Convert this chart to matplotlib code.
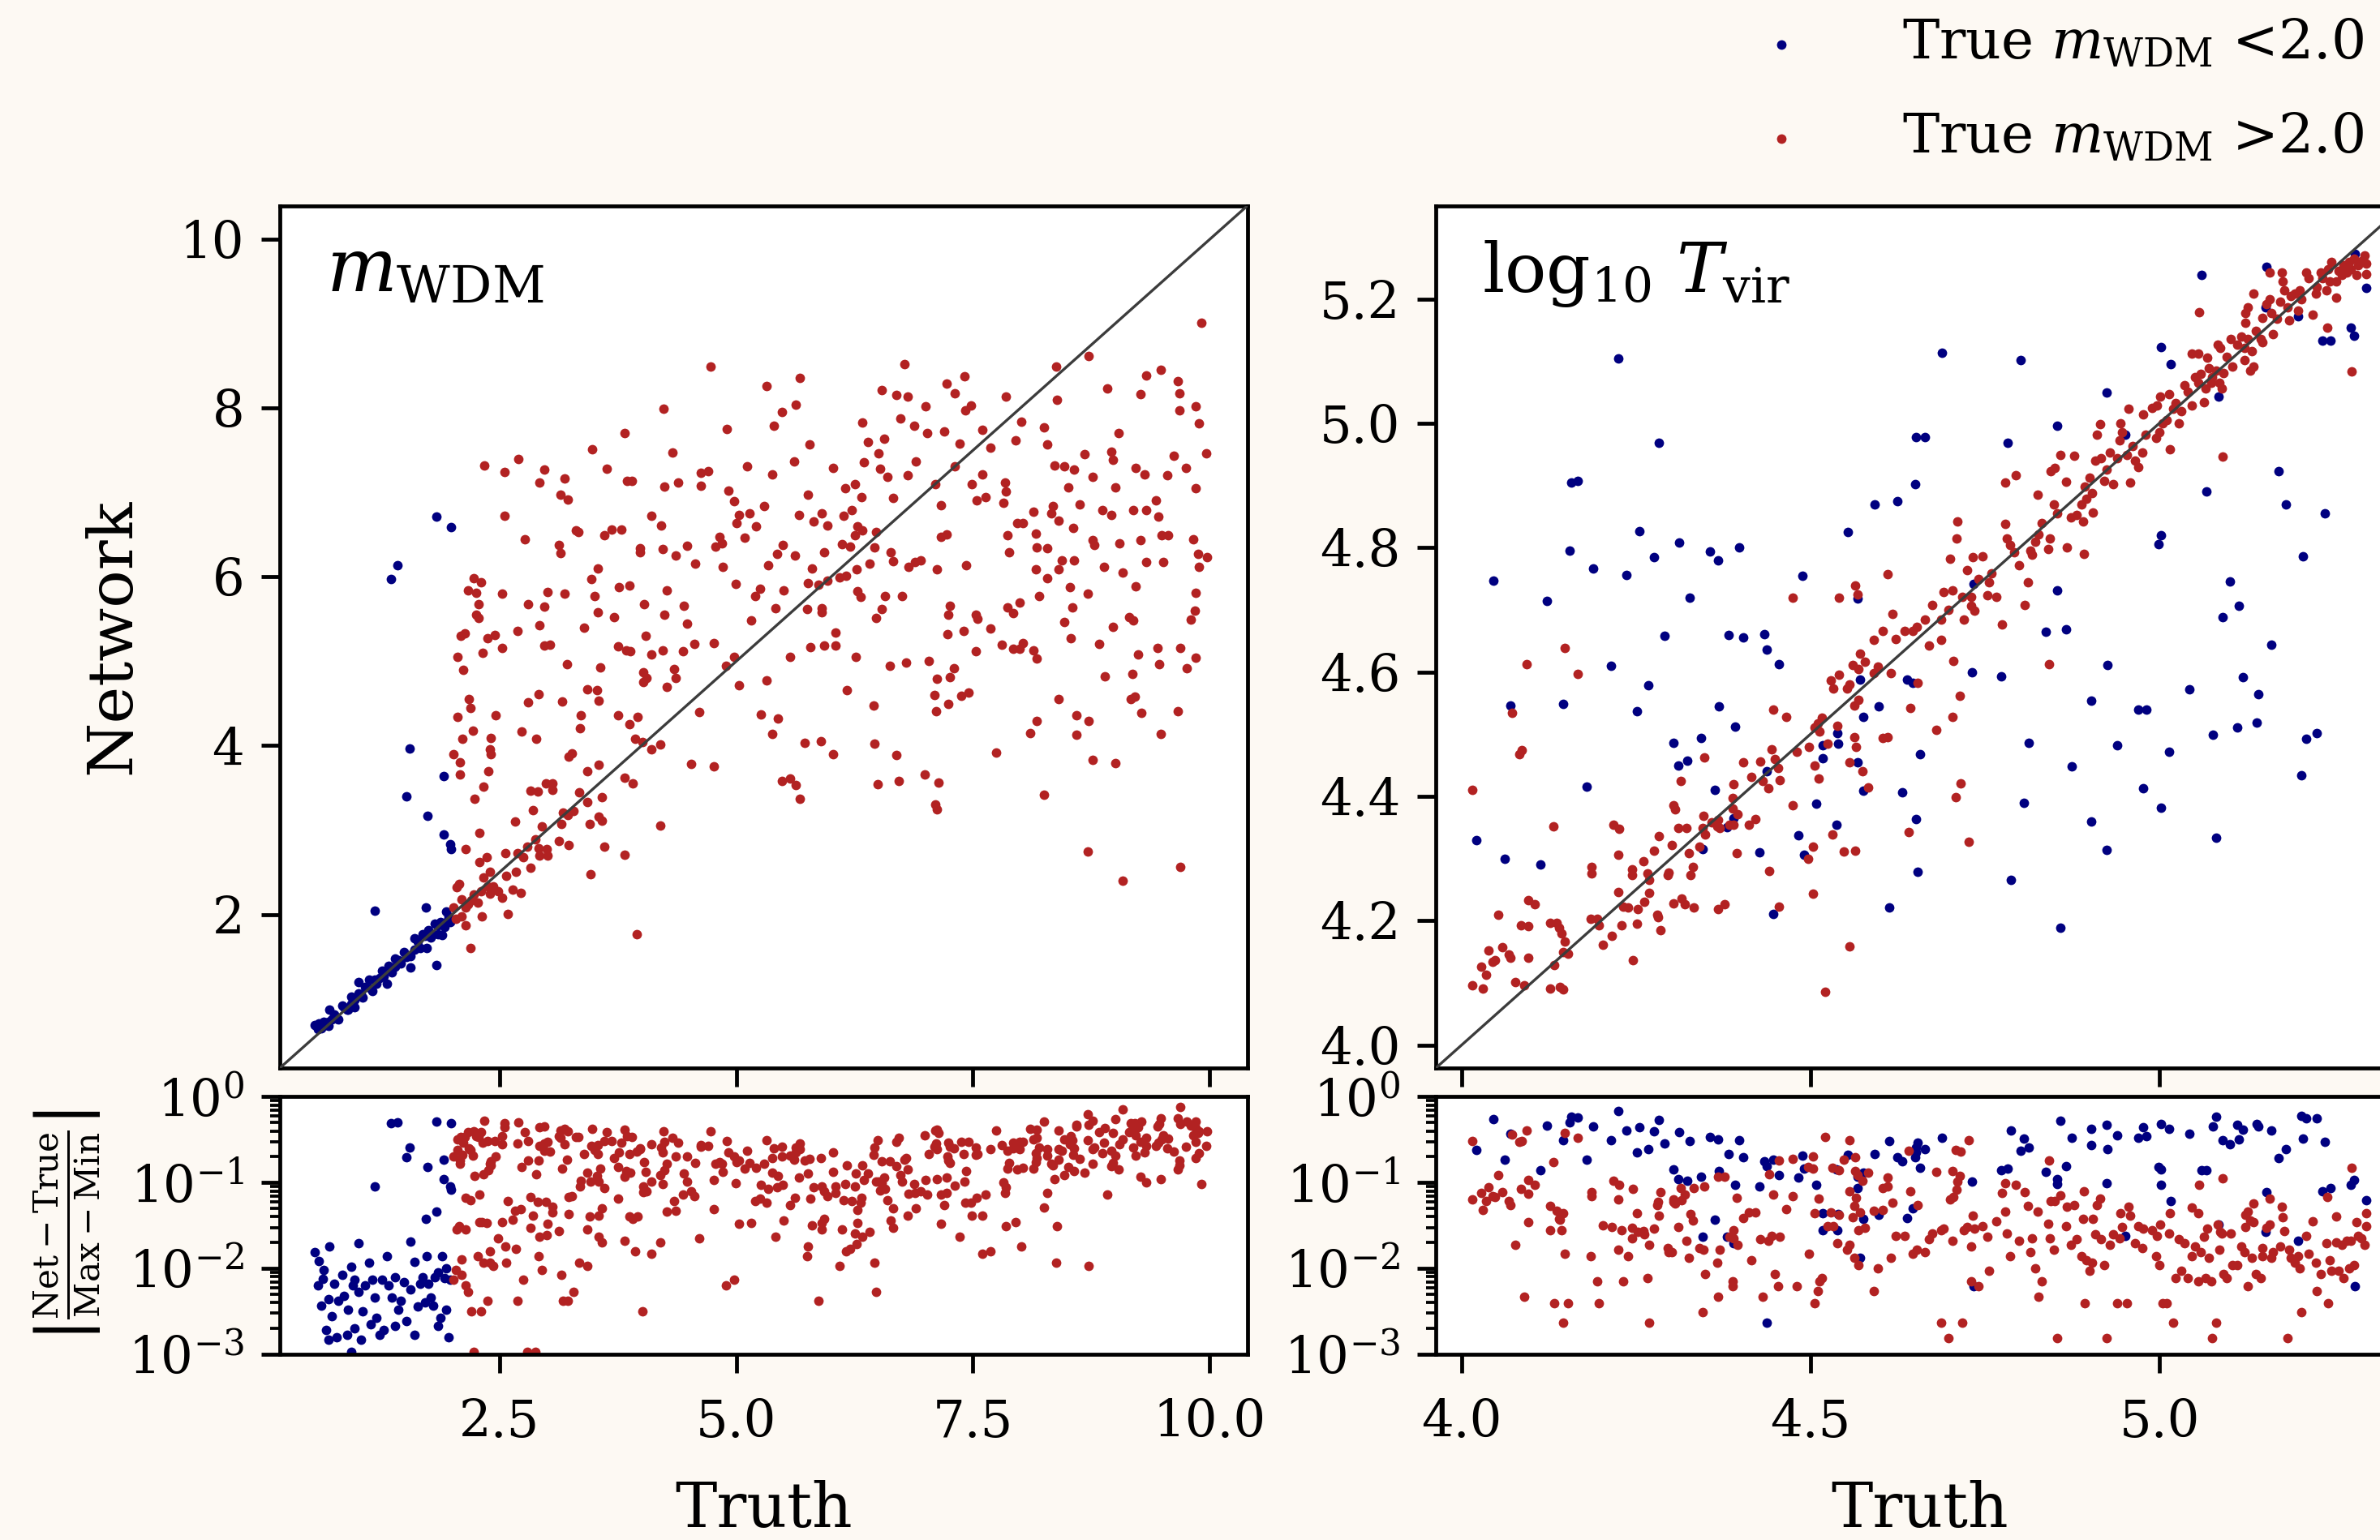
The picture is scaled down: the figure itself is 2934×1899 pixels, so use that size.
import matplotlib.pyplot as plt
import numpy as np

# (truth, network) pairs
# m_WDM panel, true m_WDM < 2
mwdm_low = np.array([
    (1.55, 3.97), (1.91, 3.64), (1.52, 3.40), (1.74, 3.17), (1.91, 2.95), (1.98, 2.83),
    (1.99, 2.77), (1.18, 2.04), (1.72, 2.08), (1.83, 1.40), (1.83, 6.71), (1.99, 6.59),
    (1.42, 6.14), (1.35, 5.97),
    (0.545, 0.691), (0.59, 0.706), (0.70, 0.870), (0.64, 0.731), (0.63, 0.702),
    (0.69, 0.731), (0.73, 0.756), (0.67, 0.688), (0.69, 0.676), (0.80, 0.760),
    (0.84, 0.920), (0.93, 1.029), (1.01, 1.194), (0.97, 0.901), (1.01, 1.060),
    (0.90, 0.869), (0.97, 0.989), (0.89, 0.874), (0.93, 0.940), (1.12, 1.231),
    (1.16, 1.091), (1.18, 1.223), (1.14, 1.119), (1.23, 1.246), (1.31, 1.180),
    (1.40, 1.475), (1.36, 1.317), (1.43, 1.461), (1.40, 1.380), (1.56, 1.367),
    (1.60, 1.713), (1.56, 1.506), (1.64, 1.674), (1.60, 1.584), (1.73, 1.600),
    (1.69, 1.765), (1.77, 1.727), (1.85, 1.870), (1.89, 1.758), (1.94, 2.034),
    (1.98, 1.911), (1.94, 1.909), (1.85, 1.765),
    (0.58, 0.640), (0.62, 0.655), (0.75, 0.812), (0.78, 0.765), (0.86, 0.905),
    (0.95, 1.010), (1.05, 1.020), (1.08, 1.140), (1.20, 1.175), (1.26, 1.330),
    (1.28, 1.262), (1.33, 1.390), (1.46, 1.420), (1.49, 1.555), (1.52, 1.497),
    (1.66, 1.598), (1.71, 1.748), (1.75, 1.812), (1.80, 1.765), (1.82, 1.895),
    (1.88, 1.905), (1.92, 1.847), (1.96, 1.975), (1.04, 1.054), (1.45, 1.447),
])

# m_WDM panel, true m_WDM > 2
mwdm_high = np.array([
    (9.91, 9.01), (4.73, 8.49), (6.78, 8.52), (5.67, 8.36), (8.38, 8.49), (8.72, 8.62),
    (7.41, 8.38), (7.22, 8.29), (9.33, 8.39), (9.48, 8.45), (9.66, 8.32), (5.32, 8.26),
    (6.54, 8.21), (7.85, 8.14), (8.92, 8.23), (9.27, 8.17), (9.68, 8.18), (6.69, 8.16),
    (6.81, 8.14), (7.31, 8.18), (4.23, 7.99), (5.63, 8.04), (5.48, 7.95), (7.00, 8.02),
    (7.48, 8.03), (7.42, 7.97), (8.39, 8.10), (9.85, 8.02), (9.68, 7.97), (9.89, 7.82),
    (6.73, 7.88), (6.88, 7.79), (6.33, 7.83), (5.40, 7.79), (7.02, 7.70), (4.90, 7.75),
    (3.82, 7.70), (7.20, 7.72), (7.60, 7.74), (8.01, 7.84), (8.25, 7.77), (9.04, 7.70),
    (6.56, 7.64), (6.39, 7.60), (5.77, 7.57), (7.95, 7.62), (8.28, 7.57), (7.36, 7.58),
    (7.68, 7.53), (8.36, 7.32), (3.48, 7.51), (4.33, 7.47), (6.50, 7.46), (8.68, 7.45),
    (8.96, 7.48), (8.98, 7.39), (9.62, 7.44), (9.96, 7.46), (2.70, 7.40), (6.90, 7.37),
    (6.35, 7.36), (2.34, 7.32), (2.55, 7.24), (5.11, 7.31), (5.61, 7.37), (6.02, 7.29),
    (6.52, 7.28), (7.31, 7.31), (7.60, 7.21), (8.57, 7.27), (8.46, 7.31), (9.22, 7.29),
    (9.31, 7.21), (9.55, 7.20), (9.75, 7.29), (2.97, 7.27), (3.63, 7.28), (3.19, 7.17),
    (2.92, 7.12), (3.85, 7.14), (3.90, 7.14), (4.63, 7.23), (4.70, 7.25), (4.39, 7.12),
    (5.38, 7.21), (4.63, 7.08), (6.60, 7.19), (6.81, 7.20), (6.15, 7.05), (6.25, 7.10),
    (8.51, 7.06), (8.76, 7.19), (9.00, 7.06), (9.85, 7.05), (7.84, 7.12), (7.85, 7.01),
    (7.49, 7.10), (7.10, 7.10), (4.24, 7.07), (4.92, 7.02), (3.14, 6.97), (3.22, 6.92),
    (5.76, 6.97), (6.32, 6.95), (7.63, 6.95), (8.34, 6.84), (7.82, 6.88), (8.63, 6.86),
    (7.16, 6.85), (7.54, 6.91), (9.43, 6.91), (4.98, 6.90), (5.29, 6.84), (6.66, 6.94),
    (8.87, 6.79), (8.96, 6.73), (9.19, 6.79), (9.33, 6.79), (9.46, 6.71), (8.33, 6.75),
    (2.55, 6.72), (4.10, 6.72), (5.03, 6.73), (5.14, 6.75), (5.66, 6.73), (5.90, 6.75),
    (6.13, 6.72), (6.22, 6.79), (5.82, 6.66), (5.96, 6.61), (5.00, 6.64), (8.14, 6.77),
    (8.40, 6.67), (8.03, 6.64), (4.21, 6.61), (5.21, 6.60), (6.33, 6.55), (6.48, 6.53),
    (3.31, 6.55), (3.33, 6.53), (3.68, 6.56), (3.79, 6.56), (3.61, 6.49), (6.25, 6.49),
    (6.28, 6.60), (7.16, 6.47), (7.22, 6.50), (7.86, 6.49), (8.16, 6.51), (7.97, 6.64),
    (8.56, 6.58), (8.76, 6.44), (8.78, 6.38), (9.05, 6.40), (9.27, 6.44), (9.49, 6.49),
    (9.56, 6.49), (9.83, 6.45), (2.77, 6.45), (3.13, 6.38), (3.14, 6.28), (4.48, 6.37),
    (4.22, 6.33), (3.98, 6.34), (3.98, 6.29), (5.49, 6.38), (5.43, 6.27), (5.62, 6.25),
    (5.93, 6.29), (6.63, 6.29), (6.46, 6.35), (6.12, 6.39), (6.20, 6.36), (4.82, 6.47),
    (4.85, 6.40), (4.78, 6.36), (5.09, 6.46), (8.17, 6.35), (8.28, 6.34), (7.88, 6.29),
    (9.88, 6.27), (9.97, 6.23), (9.89, 6.12), (8.44, 6.20), (8.57, 6.20), (9.33, 6.18),
    (9.51, 6.18), (8.88, 6.12), (7.43, 6.14), (6.89, 6.18), (6.66, 6.19), (6.95, 6.20),
    (6.82, 6.12), (6.41, 6.16), (6.27, 6.09), (4.57, 6.16), (4.36, 6.25), (4.86, 6.12),
    (5.34, 6.14), (5.80, 6.10), (7.12, 6.09), (6.09, 5.99), (8.16, 6.09), (8.40, 6.09),
    (2.23, 5.98), (2.30, 5.94), (3.54, 6.10), (3.87, 5.90), (3.76, 5.88), (3.47, 5.97),
    (4.99, 5.92), (5.25, 5.86), (5.50, 5.84), (5.76, 5.93), (5.87, 5.91), (5.96, 5.96),
    (6.16, 6.01), (6.28, 5.83), (6.31, 5.76), (6.57, 5.77), (6.75, 5.77), (8.20, 5.77),
    (8.28, 5.98), (8.52, 5.88), (8.71, 5.80), (9.22, 5.89), (9.08, 6.05), (9.85, 5.81),
    (2.17, 5.84), (2.25, 5.81), (2.53, 5.80), (3.01, 5.82), (3.19, 5.80), (4.27, 5.84),
    (2.28, 5.68), (2.25, 5.55), (2.28, 5.51), (2.80, 5.68), (2.97, 5.65), (3.50, 5.77),
    (4.03, 5.68), (4.45, 5.66), (4.24, 5.55), (3.54, 5.58), (3.71, 5.52), (5.20, 5.77),
    (5.41, 5.63), (5.75, 5.62), (5.16, 5.48), (5.90, 5.58), (5.90, 5.63), (6.48, 5.51),
    (6.54, 5.62), (7.26, 5.66), (7.24, 5.55), (7.53, 5.55), (7.55, 5.50), (7.86, 5.64),
    (7.92, 5.57), (7.99, 5.70), (8.55, 5.64), (8.46, 5.47), (9.15, 5.52), (9.19, 5.48),
    (9.84, 5.60), (9.80, 5.49), (8.98, 5.41), (2.13, 5.33), (2.09, 5.30), (2.45, 5.31),
    (2.06, 5.05), (2.32, 5.10), (2.37, 5.27), (2.53, 5.16), (2.69, 5.36), (2.92, 5.43),
    (2.97, 5.19), (3.03, 5.20), (3.39, 5.40), (4.04, 5.30), (3.75, 5.18), (3.84, 5.13),
    (3.88, 5.12), (4.10, 5.08), (4.22, 5.13), (4.44, 5.12), (4.48, 5.45), (4.56, 5.21),
    (4.76, 5.22), (4.89, 4.95), (4.98, 5.05), (5.57, 5.05), (5.78, 5.17), (5.93, 5.19),
    (6.05, 5.19), (6.26, 5.05), (6.05, 5.34), (7.23, 5.32), (7.40, 5.36), (7.53, 5.12),
    (7.68, 5.39), (7.80, 5.20), (7.92, 5.15), (7.99, 5.15), (8.03, 5.22), (8.14, 5.13),
    (8.17, 5.03), (8.53, 5.27), (8.83, 5.21), (9.24, 5.08), (9.45, 5.16), (9.47, 4.97),
    (9.69, 5.16), (9.85, 5.04), (9.76, 4.92), (2.12, 4.90), (3.56, 4.93), (3.21, 4.97),
    (4.02, 4.87), (4.05, 4.80), (4.34, 4.91), (4.36, 4.80), (4.27, 4.70), (5.03, 4.72),
    (5.32, 4.77), (6.62, 4.95), (6.79, 4.98), (7.03, 5.00), (7.12, 4.79), (7.26, 4.81),
    (7.30, 4.92), (8.89, 4.82), (9.18, 4.85), (9.21, 4.58), (7.38, 4.59), (7.45, 4.63),
    (7.24, 4.49), (7.11, 4.41), (7.09, 4.60), (6.17, 4.66), (6.45, 4.48), (4.02, 4.75),
    (3.53, 4.66), (3.55, 4.53), (3.43, 4.67), (2.18, 4.55), (2.19, 4.45), (2.91, 4.61),
    (2.80, 4.51), (3.16, 4.52), (2.46, 4.36), (2.06, 4.34), (3.36, 4.36), (3.75, 4.36),
    (3.96, 4.34), (3.35, 4.21), (3.87, 4.25), (4.61, 4.40), (5.26, 4.37), (5.44, 4.32),
    (5.38, 4.14), (6.02, 3.90), (7.74, 3.92), (8.10, 4.15), (8.17, 4.29), (8.40, 4.55),
    (8.59, 4.36), (8.72, 4.29), (8.59, 4.13), (9.17, 4.55), (9.28, 4.39), (9.48, 4.14),
    (9.66, 4.41), (8.76, 3.83), (9.00, 3.79), (8.25, 3.42), (8.71, 2.75), (9.08, 2.40),
    (9.69, 2.56), (6.69, 3.89), (6.46, 4.02), (5.89, 4.05), (5.72, 4.03), (6.49, 3.54),
    (6.72, 3.58), (6.99, 3.66), (7.14, 3.56), (7.10, 3.30), (7.12, 3.25), (5.48, 3.58),
    (5.57, 3.61), (5.67, 3.37), (5.63, 3.53),
    (2.01, 3.90), (2.11, 4.08), (2.22, 4.18), (2.41, 4.09), (2.40, 3.96), (2.41, 3.90),
    (2.08, 3.80), (2.08, 3.66), (2.38, 3.70), (2.33, 3.51), (2.24, 3.37), (2.29, 2.97),
    (2.14, 2.77), (2.29, 2.62), (2.36, 2.68), (2.33, 2.44), (2.40, 2.51), (2.56, 2.73),
    (2.57, 2.46), (2.67, 2.51), (2.83, 2.55), (2.66, 3.10), (2.75, 2.68), (2.69, 2.73),
    (2.88, 2.89), (2.79, 2.80), (2.91, 2.78), (2.92, 2.70), (3.00, 2.77), (3.01, 2.70),
    (2.95, 3.04), (2.83, 3.47), (2.90, 3.46), (2.99, 3.55), (3.06, 3.55), (3.06, 3.48),
    (2.85, 3.24), (3.13, 2.87), (3.15, 3.07), (3.22, 3.18), (3.17, 3.21), (3.28, 3.23),
    (3.23, 2.82), (3.34, 3.45), (3.43, 3.33), (3.58, 3.39), (3.55, 3.16), (3.58, 3.11),
    (3.45, 3.07), (3.61, 2.80), (3.82, 2.71), (3.46, 2.48), (4.20, 3.05), (3.95, 1.77),
    (3.43, 3.70), (3.55, 3.77), (3.82, 3.62), (3.91, 3.55), (3.23, 3.87), (3.26, 3.91),
    (3.93, 4.08), (4.01, 4.04), (4.10, 3.96), (4.20, 4.01), (4.52, 3.78), (4.76, 3.75),
    (2.89, 4.08), (2.73, 4.17), (2.01, 2.08), (2.07, 2.36), (2.05, 2.32), (2.10, 2.18),
    (2.14, 2.08), (2.17, 2.12), (2.23, 2.24), (2.27, 2.14), (2.04, 1.95), (2.10, 1.98),
    (2.14, 1.87), (2.19, 1.60), (2.31, 1.98), (2.43, 2.33), (2.48, 2.27), (2.53, 2.20),
    (2.40, 2.25), (2.59, 2.01), (2.64, 2.29), (2.72, 2.26), (2.30, 2.27), (2.37, 2.33),
    (2.20, 2.17),
])

# log10 T_vir panel, true m_WDM < 2
tvir_low = np.array([
    (4.291, 4.658), (4.383, 4.659), (4.403, 4.656), (4.434, 4.661), (4.437, 4.636),
    (4.455, 4.612), (4.214, 4.610), (4.267, 4.579), (4.070, 4.546), (4.146, 4.549),
    (4.251, 4.537), (4.369, 4.544), (4.392, 4.512), (4.304, 4.486), (4.343, 4.494),
    (4.310, 4.450), (4.323, 4.457), (4.179, 4.416), (4.363, 4.410), (4.437, 4.440),
    (4.508, 4.388), (4.537, 4.354), (4.576, 4.409), (4.538, 4.502), (4.518, 4.482),
    (4.518, 4.461), (4.540, 4.485), (4.567, 4.455), (4.571, 4.588), (4.576, 4.528),
    (4.598, 4.544), (4.638, 4.588), (4.647, 4.582), (4.632, 4.407), (4.657, 4.468),
    (4.651, 4.363), (4.653, 4.279), (4.613, 4.221), (4.483, 4.337), (4.491, 4.306),
    (4.427, 4.310), (4.446, 4.211), (4.021, 4.329), (4.062, 4.300), (4.113, 4.290),
    (4.345, 4.315), (4.390, 4.365), (4.380, 4.350),
    (4.046, 4.747), (4.122, 4.714), (4.155, 4.795), (4.157, 4.904), (4.166, 4.907),
    (4.189, 4.766), (4.225, 5.104), (4.236, 4.756), (4.255, 4.826), (4.276, 4.784),
    (4.283, 4.969), (4.312, 4.808), (4.327, 4.719), (4.356, 4.794), (4.367, 4.779),
    (4.398, 4.800), (4.489, 4.754),
    (4.688, 5.113), (4.801, 5.102), (4.553, 4.825), (4.592, 4.869), (4.624, 4.875),
    (4.650, 4.902), (4.651, 4.978), (4.664, 4.978), (4.783, 4.968), (4.854, 4.996),
    (4.924, 5.049), (4.951, 4.982), (5.002, 5.122), (5.016, 5.095), (5.060, 5.239),
    (5.153, 5.252), (5.297, 5.217), (5.274, 5.154), (5.279, 5.141), (5.234, 5.133),
    (5.245, 5.133), (5.085, 5.043), (5.152, 5.186), (5.199, 5.172), (5.171, 4.923),
    (5.067, 4.890), (5.181, 4.869), (5.237, 4.855), (5.002, 4.820), (4.999, 4.805),
    (5.206, 4.786), (5.101, 4.746), (5.114, 4.707), (5.091, 4.688), (5.161, 4.644),
    (4.837, 4.664), (4.866, 4.668), (4.854, 4.731), (4.568, 4.718), (4.734, 4.742),
    (5.280, 5.272),
    (4.731, 4.600), (4.773, 4.593), (4.926, 4.611), (4.902, 4.554), (4.970, 4.539),
    (4.981, 4.539), (4.940, 4.482), (4.813, 4.486), (4.875, 4.448), (4.977, 4.413),
    (5.002, 4.382), (5.014, 4.471), (5.043, 4.572), (5.077, 4.499), (5.112, 4.511),
    (5.140, 4.519), (5.120, 4.592), (5.142, 4.564), (5.210, 4.492), (5.226, 4.501),
    (5.204, 4.434), (5.081, 4.334), (4.924, 4.314), (4.902, 4.360), (4.858, 4.188),
    (4.806, 4.390), (4.787, 4.266),
])

# log10 T_vir panel, true m_WDM > 2
tvir_high = np.array([
    (4.015, 4.096), (4.030, 4.091), (4.028, 4.126), (4.035, 4.113), (4.039, 4.152),
    (4.044, 4.134), (4.048, 4.136), (4.058, 4.157), (4.067, 4.145), (4.070, 4.140),
    (4.052, 4.210), (4.015, 4.410), (4.077, 4.101), (4.090, 4.096), (4.085, 4.193),
    (4.096, 4.191), (4.096, 4.140), (4.095, 4.233), (4.105, 4.226), (4.072, 4.534),
    (4.093, 4.613), (4.083, 4.468), (4.086, 4.474), (4.131, 4.351), (4.148, 4.638),
    (4.166, 4.597), (4.127, 4.196), (4.136, 4.196), (4.140, 4.188), (4.143, 4.179),
    (4.148, 4.167), (4.146, 4.149), (4.152, 4.147), (4.133, 4.128), (4.127, 4.091),
    (4.141, 4.094), (4.146, 4.090), (4.185, 4.203), (4.194, 4.203), (4.197, 4.192),
    (4.186, 4.286), (4.186, 4.276), (4.202, 4.161), (4.215, 4.176), (4.225, 4.246),
    (4.225, 4.306), (4.229, 4.193), (4.232, 4.223), (4.239, 4.221), (4.245, 4.137),
    (4.251, 4.195), (4.252, 4.218), (4.244, 4.282), (4.244, 4.273), (4.218, 4.354),
    (4.226, 4.348), (4.261, 4.296), (4.262, 4.230), (4.266, 4.276), (4.269, 4.266),
    (4.269, 4.245), (4.276, 4.313), (4.280, 4.210), (4.281, 4.205), (4.283, 4.336),
    (4.285, 4.185), (4.295, 4.273), (4.297, 4.277), (4.301, 4.321), (4.304, 4.228),
    (4.310, 4.349), (4.314, 4.425), (4.303, 4.385), (4.306, 4.379), (4.315, 4.235),
    (4.320, 4.226), (4.322, 4.349), (4.326, 4.309), (4.328, 4.273), (4.332, 4.286),
    (4.333, 4.221), (4.341, 4.319), (4.345, 4.349), (4.347, 4.368), (4.349, 4.338),
    (4.348, 4.463), (4.358, 4.358), (4.366, 4.351), (4.368, 4.362), (4.370, 4.349),
    (4.367, 4.218), (4.377, 4.227), (4.384, 4.354), (4.390, 4.354), (4.390, 4.419),
    (4.389, 4.397), (4.389, 4.380), (4.395, 4.371), (4.394, 4.309), (4.412, 4.354),
    (4.421, 4.363), (4.404, 4.454), (4.415, 4.431), (4.428, 4.456), (4.431, 4.425),
    (4.440, 4.413), (4.444, 4.475), (4.449, 4.460), (4.453, 4.445), (4.456, 4.426),
    (4.441, 4.280), (4.446, 4.540), (4.465, 4.528), (4.475, 4.385), (4.455, 4.222),
    (4.480, 4.472), (4.498, 4.479), (4.506, 4.450), (4.512, 4.429), (4.496, 4.299),
    (4.503, 4.244), (4.504, 4.319), (4.506, 4.511), (4.510, 4.517), (4.516, 4.526),
    (4.513, 4.504), (4.525, 4.485), (4.529, 4.587), (4.533, 4.573), (4.541, 4.595),
    (4.556, 4.580), (4.552, 4.573), (4.531, 4.338), (4.521, 4.086), (4.548, 4.311),
    (4.564, 4.313), (4.556, 4.158), (4.556, 4.454), (4.565, 4.480), (4.574, 4.440),
    (4.583, 4.414), (4.563, 4.495), (4.538, 4.513), (4.563, 4.546), (4.569, 4.555),
    (4.560, 4.611), (4.569, 4.605), (4.578, 4.616), (4.591, 4.598), (4.596, 4.609),
    (4.604, 4.494), (4.611, 4.495), (4.615, 4.598), (4.643, 4.542), (4.641, 4.342),
    (4.653, 4.583), (4.474, 4.719),
    (4.541, 4.720), (4.564, 4.739), (4.568, 4.725), (4.611, 4.757), (4.571, 4.629),
    (4.591, 4.651), (4.604, 4.666), (4.618, 4.693), (4.622, 4.653), (4.635, 4.666),
    (4.647, 4.666), (4.652, 4.673), (4.664, 4.684), (4.675, 4.708), (4.670, 4.642),
    (4.687, 4.651), (4.687, 4.684), (4.691, 4.728), (4.698, 4.700), (4.704, 4.731),
    (4.710, 4.842), (4.709, 4.815), (4.700, 4.782), (4.718, 4.721), (4.720, 4.684),
    (4.725, 4.764), (4.730, 4.721), (4.730, 4.707), (4.735, 4.698), (4.732, 4.785),
    (4.746, 4.786), (4.741, 4.749), (4.753, 4.723), (4.756, 4.744), (4.759, 4.758),
    (4.766, 4.721), (4.774, 4.676), (4.779, 4.838), (4.781, 4.814), (4.786, 4.804),
    (4.779, 4.904), (4.794, 4.916), (4.792, 4.793), (4.799, 4.772), (4.807, 4.708),
    (4.812, 4.744), (4.815, 4.795), (4.817, 4.788), (4.822, 4.809), (4.827, 4.821),
    (4.826, 4.885), (4.831, 4.840), (4.841, 4.798), (4.843, 4.814), (4.849, 4.870),
    (4.853, 4.855), (4.858, 4.949), (4.850, 4.928), (4.844, 4.923), (4.866, 4.906),
    (4.867, 4.800), (4.873, 4.849), (4.878, 4.948), (4.881, 4.853), (4.888, 4.870),
    (4.891, 4.842), (4.892, 4.790), (4.893, 4.898), (4.895, 4.879), (4.900, 4.912),
    (4.903, 4.888), (4.905, 4.856), (4.908, 4.940), (4.911, 4.981), (4.915, 4.999),
    (4.916, 4.944), (4.921, 4.907), (4.924, 4.926), (4.929, 4.953), (4.934, 4.902),
    (4.939, 4.944), (4.943, 4.972), (4.944, 5.000), (4.947, 4.986), (4.954, 4.949),
    (4.956, 5.023), (4.958, 4.905), (4.962, 4.963), (4.965, 4.940), (4.970, 4.930),
    (4.975, 4.953), (4.977, 5.014), (4.980, 4.981), (4.989, 5.025), (4.995, 4.977),
    (4.997, 5.028), (5.000, 4.986), (5.001, 5.043), (5.005, 5.000), (5.010, 5.005),
    (5.014, 5.047), (5.015, 4.958), (5.020, 5.023), (5.023, 5.033), (5.028, 5.000),
    (5.031, 5.019), (5.036, 5.061), (5.041, 5.051), (5.046, 5.028), (5.051, 5.074),
    (5.056, 5.065), (5.059, 5.079), (5.064, 5.034), (5.066, 5.056), (5.071, 5.088),
    (5.074, 5.065), (5.076, 5.074), (5.081, 5.084), (5.086, 5.065), (5.089, 5.056),
    (5.092, 5.081), (5.046, 5.112), (5.056, 5.112), (5.069, 5.106), (5.057, 5.179),
    (5.084, 5.126), (5.087, 5.121), (5.097, 5.107), (5.102, 5.135), (5.105, 5.091),
    (5.112, 5.126), (5.117, 5.140), (5.122, 5.121), (5.127, 5.135), (5.130, 5.084),
    (5.133, 5.116), (5.135, 5.091), (5.122, 5.102), (5.123, 5.162), (5.123, 5.177),
    (5.127, 5.186), (5.135, 5.208), (5.138, 5.149), (5.145, 5.135), (5.148, 5.130),
    (5.153, 5.191), (5.158, 5.200), (5.160, 5.177), (5.163, 5.143), (5.168, 5.168),
    (5.173, 5.196), (5.175, 5.242), (5.177, 5.228), (5.179, 5.214), (5.184, 5.186),
    (5.186, 5.165), (5.188, 5.205), (5.194, 5.209), (5.199, 5.181), (5.201, 5.214),
    (5.204, 5.200), (5.211, 5.242), (5.214, 5.233), (5.220, 5.175), (5.224, 5.209),
    (5.226, 5.219), (5.231, 5.242), (5.234, 5.233), (5.239, 5.214), (5.242, 5.247),
    (5.244, 5.228), (5.247, 5.259), (5.254, 5.202), (5.241, 5.154), (5.254, 5.228),
    (5.257, 5.245), (5.262, 5.238), (5.264, 5.254), (5.269, 5.242), (5.272, 5.259),
    (5.274, 5.247), (5.279, 5.265), (5.282, 5.238), (5.285, 5.254), (5.290, 5.261),
    (5.294, 5.270), (5.296, 5.240), (5.297, 5.257), (5.275, 5.083), (5.158, 5.242),
    (5.148, 5.170), (5.091, 4.946),
    (4.708, 4.398), (4.715, 4.421), (4.727, 4.327), (4.704, 4.528), (4.714, 4.561),
    (4.680, 4.507), (4.705, 4.618), (4.842, 4.612),
])

lim_mwdm = (0.18, 10.40)
lim_tvir = (3.963, 5.35)

bg = '#fdf9f3'
c_low = '#000080'
c_high = '#b22222'

plt.rcParams['font.family'] = ['DejaVu Serif']
plt.rcParams['mathtext.fontset'] = 'dejavuserif'

fig = plt.figure(figsize=(2934 / 300, 1899 / 300), dpi=300, facecolor=bg)

ax_m = fig.add_axes([0.1176, 0.3065, 0.4066, 0.56])
res_m = fig.add_axes([0.1176, 0.1206, 0.4066, 0.1672], sharex=ax_m)
ax_t = fig.add_axes([0.6033, 0.3065, 0.4066, 0.56])
res_t = fig.add_axes([0.6033, 0.1206, 0.4066, 0.1672], sharex=ax_t)

panels = [
    (ax_m, res_m, mwdm_low, mwdm_high, lim_mwdm, r'$m_{\rm WDM}$', 22),
    (ax_t, res_t, tvir_low, tvir_high, lim_tvir, r'$\log_{10}\,T_{\rm vir}$', 20.5),
]

handles = []
for ax, rax, low, high, lim, title, tsize in panels:
    truth_all = np.concatenate([low[:, 0], high[:, 0]])
    span = truth_all.max() - truth_all.min()
    for data, col in [(low, c_low), (high, c_high)]:
        t, n = data[:, 0], data[:, 1]
        h = ax.scatter(t, n, s=8, color=col, linewidths=0, zorder=2)
        rax.scatter(t, np.abs(n - t) / span, s=8, color=col, linewidths=0, zorder=2)
        if ax is ax_m:
            handles.append(h)
    ax.plot(lim, lim, color='#3c3c3c', lw=0.8, zorder=3)
    ax.set_xlim(lim)
    ax.set_ylim(lim)
    ax.text(0.048, 0.90, title, transform=ax.transAxes, fontsize=tsize, va='baseline')
    ax.tick_params(labelbottom=False)
    rax.set_yscale('log')
    rax.set_ylim(1e-3, 1)
    rax.set_yticks([1e-3, 1e-2, 1e-1, 1])
    rax.set_xlabel('Truth', fontsize=18.5, labelpad=9.5)
    for a in (ax, rax):
        a.set_facecolor('white')
        for sp in a.spines.values():
            sp.set_linewidth(1.15)
        a.tick_params(which='major', length=5.5, width=1.15, labelsize=15, pad=5)
        a.tick_params(which='minor', length=2.8, width=0.9)
    rax.tick_params(axis='x', which='major', pad=7.5)

ax_m.set_yticks([2, 4, 6, 8, 10])
ax_m.set_xticks([2.5, 5.0, 7.5, 10.0])
res_m.set_xticklabels(['2.5', '5.0', '7.5', '10.0'])
ax_t.set_yticks([4.0, 4.2, 4.4, 4.6, 4.8, 5.0, 5.2])
ax_t.set_yticklabels(['4.0', '4.2', '4.4', '4.6', '4.8', '5.0', '5.2'])
ax_t.set_xticks([4.0, 4.5, 5.0])
res_t.set_xticklabels(['4.0', '4.5', '5.0'])

ax_m.set_ylabel('Network', fontsize=18.5, labelpad=11)
res_m.set_ylabel(r'$\left|\frac{\rm Net-True}{\rm Max-Min}\right|$', fontsize=14.5, labelpad=7.6)

fig.legend(handles, [r'True $m_{\rm WDM}$ <2.0', r'True $m_{\rm WDM}$ >2.0'],
           loc='upper right', bbox_to_anchor=(1.014, 1.021), frameon=False, fontsize=16.3,
           handletextpad=1.2, labelspacing=0.75)

fig.savefig('out.png', dpi=300, facecolor=bg)
